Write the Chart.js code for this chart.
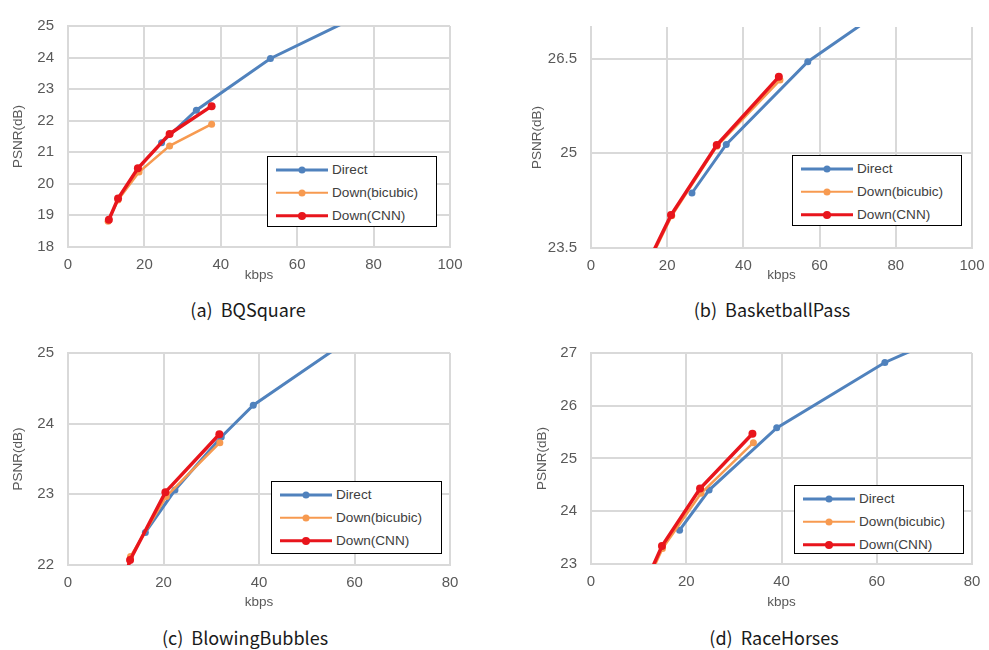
<!DOCTYPE html>
<html lang="en">
<head>
<meta charset="UTF-8">
<title>PSNR vs kbps</title>
<script src="https://cdn.jsdelivr.net/npm/chart.js"></script>
<style>
  body { margin: 0; background: #fff; width: 989px; height: 650px; position: relative; overflow: hidden; }
  .panel { position: absolute; }
  .caption { position: absolute; transform: translateX(-50%); white-space: pre;
             font-family: "Noto Sans CJK KR", "Noto Sans", sans-serif; font-size: 18px; color: #1a1a1a; }
  .legend { position: absolute; box-sizing: border-box; border: 1.5px solid #000; background: #fff;
            padding-top: 1px; font-family: "Liberation Sans", Arial, sans-serif; font-size: 13.6px; color: #404040; }
  .legend .row { height: 23px; display: flex; align-items: center; }
  .legend .sw { position: relative; width: 52px; height: 10px; margin-left: 8px; margin-right: 4px; }
  .legend .sw .ln { position: absolute; left: 0; right: 0; top: 50%; transform: translateY(-50%); }
  .legend .sw .dot { position: absolute; left: 50%; top: 50%; transform: translate(-50%, -50%); border-radius: 50%; }
</style>
</head>
<body>
<script>
// ---- data (kbps / PSNR in dB) ----
const seriesNames = ['Direct', 'Down(bicubic)', 'Down(CNN)'];

// (a) BQSquare
const aYTicks = [18, 19, 20, 21, 22, 23, 24, 25];
const aDirectKbps = [24.5, 33.6, 53.0, 85.0];
const aDirectPsnr = [21.30, 22.33, 23.97, 25.85];
const aBicubicKbps = [10.5, 13.1, 18.6, 26.6, 37.6];
const aBicubicPsnr = [18.81, 19.49, 20.37, 21.20, 21.89];
const aCnnKbps = [10.7, 13.1, 18.3, 26.6, 37.6];
const aCnnPsnr = [18.86, 19.53, 20.49, 21.58, 22.46];

// (b) BasketballPass
const bYTicks = [23.5, 25, 26.5];
const bDirectKbps = [26.5, 35.5, 56.9, 88.0];
const bDirectPsnr = [24.37, 25.14, 26.45, 27.75];
const bBicubicKbps = [14.0, 21.2, 33.0, 49.6];
const bBicubicPsnr = [23.12, 24.01, 25.11, 26.16];
const bCnnKbps = [14.0, 21.0, 33.0, 49.3];
const bCnnPsnr = [23.15, 24.02, 25.13, 26.21];

// (c) BlowingBubbles
const cYTicks = [22, 23, 24, 25];
const cDirectKbps = [16.2, 22.4, 32.1, 38.8, 72.0];
const cDirectPsnr = [22.46, 23.06, 23.81, 24.26, 25.80];
const cBicubicKbps = [11.0, 13.1, 20.6, 31.8];
const cBicubicPsnr = [21.60, 22.12, 22.97, 23.73];
const cCnnKbps = [11.0, 13.0, 20.4, 31.7];
const cCnnPsnr = [21.60, 22.07, 23.03, 23.85];

// (d) RaceHorses
const dYTicks = [23, 24, 25, 26, 27];
const dDirectKbps = [18.6, 24.8, 39.0, 61.7, 80.0];
const dDirectPsnr = [23.64, 24.40, 25.58, 26.82, 27.55];
const dBicubicKbps = [11.0, 15.0, 23.1, 34.1];
const dBicubicPsnr = [22.50, 23.29, 24.34, 25.30];
const dCnnKbps = [11.0, 14.9, 22.9, 33.9];
const dCnnPsnr = [22.55, 23.34, 24.43, 25.47];

// ---- styles ----
const colors = ['#5082bd', '#f79a50', '#e8151c'];
const lineWidths = [3, 2.5, 3.5];
const pointRadii = [3.5, 3.5, 4];

const panels = [
  { caption: '(a)  BQSquare', series: [[aDirectKbps, aDirectPsnr], [aBicubicKbps, aBicubicPsnr], [aCnnKbps, aCnnPsnr]],
    xMax: 100, yMin: 18, yMax: 25, yTicks: aYTicks,
    left: 0, plot: [68, 15, 450, 247], yTitleX: 18, kbpsY: 275, capX: 248, capY: 309, legend: [267, 156, 170, 71] },
  { caption: '(b)  BasketballPass', series: [[bDirectKbps, bDirectPsnr], [bBicubicKbps, bBicubicPsnr], [bCnnKbps, bCnnPsnr]],
    xMax: 100, yMin: 23.5, yMax: 27, yTicks: bYTicks,
    left: 490, plot: [591, 16, 972, 248], yTitleX: 537, kbpsY: 275, capX: 772, capY: 309, legend: [792, 155, 170, 71] },
  { caption: '(c)  BlowingBubbles', series: [[cDirectKbps, cDirectPsnr], [cBicubicKbps, cBicubicPsnr], [cCnnKbps, cCnnPsnr]],
    xMax: 80, yMin: 22, yMax: 25, yTicks: cYTicks,
    left: 0, plot: [68, 342, 450, 565], yTitleX: 18, kbpsY: 602, capX: 245, capY: 637, legend: [271, 481, 171, 73] },
  { caption: '(d)  RaceHorses', series: [[dDirectKbps, dDirectPsnr], [dBicubicKbps, dBicubicPsnr], [dCnnKbps, dCnnPsnr]],
    xMax: 80, yMin: 23, yMax: 27, yTicks: dYTicks,
    left: 490, plot: [591, 342, 972, 564], yTitleX: 542, kbpsY: 602, capX: 774, capY: 637, legend: [794, 485, 170, 69] },
];

const tickFont = { family: 'Liberation Sans, Arial, sans-serif', size: 15 };
const titleFont = { family: 'Liberation Sans, Arial, sans-serif', size: 13.5 };
const gridColor = '#d9d9d9';

panels.forEach(p => {
  const [pl, pt, pr, pb] = p.plot;
  const padTop = 12, padRight = 22;
  const top = pt - padTop;
  const xAxisH = p.kbpsY - pb + titleFont.size * 1.2 / 2;
  const width = pr - p.left + padRight;
  const height = pb - top + xAxisH;

  const box = document.createElement('div');
  box.className = 'panel';
  box.style.left = p.left + 'px';
  box.style.top = top + 'px';
  const canvas = document.createElement('canvas');
  canvas.width = width;
  canvas.height = height;
  box.appendChild(canvas);
  document.body.appendChild(box);

  const datasets = p.series.map((s, i) => ({
    label: seriesNames[i],
    data: s[0].map((x, k) => ({ x: x, y: s[1][k] })),
    borderColor: colors[i],
    backgroundColor: colors[i],
    borderWidth: lineWidths[i],
    pointRadius: pointRadii[i],
    pointBorderWidth: 0,
    showLine: true,
    tension: 0,
    clip: 0,
    order: 3 - i,
  }));

  new Chart(canvas, {
    type: 'line',
    data: { datasets },
    options: {
      responsive: false,
      animation: false,
      layout: { padding: { top: padTop, right: padRight, left: 0, bottom: 0 } },
      plugins: { legend: { display: false }, tooltip: { enabled: false } },
      scales: {
        x: {
          type: 'linear', min: 0, max: p.xMax,
          ticks: { stepSize: 20, color: '#595959', font: tickFont, padding: 9, maxRotation: 0 },
          grid: { color: gridColor, lineWidth: 2, drawTicks: false },
          border: { color: gridColor, width: 2 },
          title: { display: true, text: 'kbps', color: '#595959', font: titleFont, padding: 0 },
          afterFit: s => { s.height = xAxisH; },
        },
        y: {
          type: 'linear', min: p.yMin, max: p.yMax,
          ticks: { color: '#595959', font: tickFont, padding: 14 },
          grid: { color: gridColor, lineWidth: 2, drawTicks: false },
          border: { color: gridColor, width: 2 },
          title: { display: true, text: 'PSNR(dB)', color: '#595959', font: titleFont,
                   padding: { top: p.yTitleX - p.left - titleFont.size * 1.2 / 2, bottom: 0 } },
          afterBuildTicks: s => { s.ticks = p.yTicks.map(v => ({ value: v })); },
          afterFit: s => { s.width = pl - p.left; },
        },
      },
    },
  });

  // legend box inside the plot
  const lg = document.createElement('div');
  lg.className = 'legend';
  const [lx, ly, lw, lh] = p.legend;
  Object.assign(lg.style, { left: lx + 'px', top: ly + 'px', width: lw + 'px', height: lh + 'px' });
  seriesNames.forEach((name, i) => {
    const row = document.createElement('div');
    row.className = 'row';
    const sw = document.createElement('div');
    sw.className = 'sw';
    const ln = document.createElement('div');
    ln.className = 'ln';
    ln.style.height = lineWidths[i] + 'px';
    ln.style.background = colors[i];
    const dot = document.createElement('div');
    dot.className = 'dot';
    dot.style.width = dot.style.height = (pointRadii[i] * 2) + 'px';
    dot.style.background = colors[i];
    sw.appendChild(ln);
    sw.appendChild(dot);
    const txt = document.createElement('span');
    txt.textContent = name;
    row.appendChild(sw);
    row.appendChild(txt);
    lg.appendChild(row);
  });
  document.body.appendChild(lg);

  const cap = document.createElement('div');
  cap.className = 'caption';
  cap.textContent = p.caption;
  cap.style.left = p.capX + 'px';
  cap.style.top = (p.capY - 13) + 'px';
  document.body.appendChild(cap);
});
</script>
</body>
</html>
